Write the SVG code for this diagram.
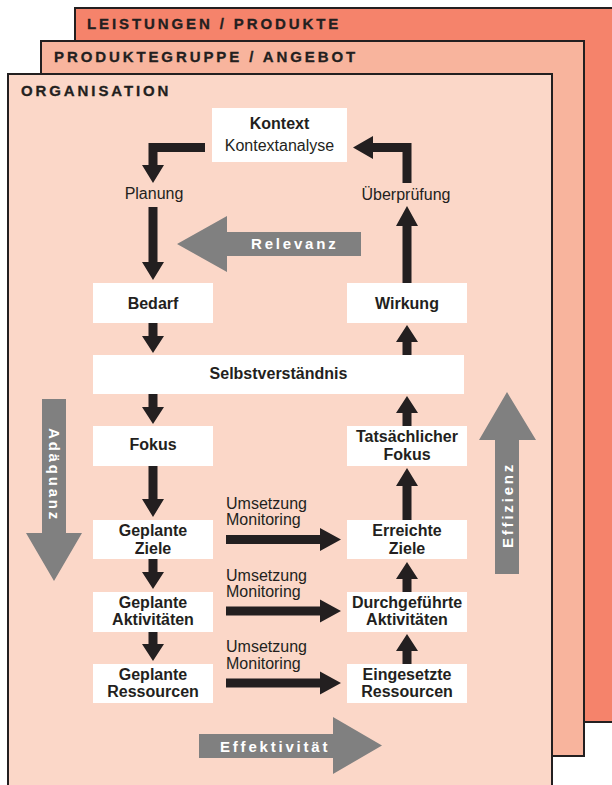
<svg xmlns="http://www.w3.org/2000/svg" width="612" height="785" viewBox="0 0 612 785">
  <defs>
    <style>
      .layer { stroke: #231F20; stroke-width: 2; }
      .l1 { fill: #F5836B; }
      .l2 { fill: #F8B49D; }
      .l3 { fill: #FBD7C8; }
      .head { font-family: "Liberation Sans", Arial, sans-serif; font-weight: bold; font-size: 15px; letter-spacing: 2.9px; fill: #231F20; stroke: #231F20; stroke-width: 0.3; }
      .box { fill: #FFFFFF; }
      .lbl { font-family: "Liberation Sans", Arial, sans-serif; font-weight: bold; font-size: 16px; fill: #231F20; text-anchor: middle; }
      .reg { font-family: "Liberation Sans", Arial, sans-serif; font-size: 16px; fill: #231F20; }
      .mid { text-anchor: middle; }
      .arr { fill: #231F20; }
      .grey { fill: #808080; }
      .gtxt { font-family: "Liberation Sans", Arial, sans-serif; font-weight: bold; font-size: 15px; letter-spacing: 2.8px; fill: #FFFFFF; }
    </style>
  </defs>

  <!-- stacked levels -->
  <g id="level-leistungen">
    <rect class="layer l1" x="75" y="8" width="560" height="714"/>
    <text class="head" x="87" y="28.5">LEISTUNGEN / PRODUKTE</text>
  </g>
  <g id="level-produktegruppe">
    <rect class="layer l2" x="41" y="41" width="543" height="715"/>
    <text class="head" x="54" y="62">PRODUKTEGRUPPE / ANGEBOT</text>
  </g>
  <g id="level-organisation">
    <rect class="layer l3" x="8" y="74" width="544" height="730"/>
    <text class="head" x="21" y="96">ORGANISATION</text>
  </g>

  <!-- grey dimension arrows -->
  <g id="relevanz">
    <polygon class="grey" points="361,232 227,232 227,216 177,244 227,272 227,256 361,256"/>
    <text class="gtxt" x="251" y="249">Relevanz</text>
  </g>
  <g id="adaequanz">
    <polygon class="grey" points="42,399 66,399 66,533 82,533 54,581 26,533 42,533"/>
    <text class="gtxt" transform="translate(49,428) rotate(90)" x="0" y="0">Adäquanz</text>
  </g>
  <g id="effizienz">
    <polygon class="grey" points="495,574 519,574 519,440 536,440 507,392 479,440 495,440"/>
    <text class="gtxt" transform="translate(512.5,548) rotate(-90)" x="0" y="0">Effizienz</text>
  </g>
  <g id="effektivitaet">
    <polygon class="grey" points="199,734 333,734 333,717 382,745.5 333,774 333,758 199,758"/>
    <text class="gtxt" x="220" y="751.5">Effektivität</text>
  </g>

  <!-- nodes -->
  <g id="kontext">
    <rect class="box" x="212" y="108" width="135" height="54"/>
    <text class="lbl" x="279.5" y="129">Kontext</text>
    <text class="reg mid" x="279.5" y="150.5">Kontextanalyse</text>
  </g>
  <g id="planung">
    <text class="reg mid" x="154" y="199">Planung</text>
  </g>
  <g id="ueberpruefung">
    <text class="reg mid" x="406" y="199.5">Überprüfung</text>
  </g>
  <g id="bedarf">
    <rect class="box" x="93" y="283" width="120" height="40"/>
    <text class="lbl" x="153" y="308.5">Bedarf</text>
  </g>
  <g id="wirkung">
    <rect class="box" x="347" y="283" width="120" height="40"/>
    <text class="lbl" x="407" y="308.5">Wirkung</text>
  </g>
  <g id="selbstverstaendnis">
    <rect class="box" x="93" y="355" width="371" height="39"/>
    <text class="lbl" x="278.5" y="378.5">Selbstverständnis</text>
  </g>
  <g id="fokus">
    <rect class="box" x="93" y="426" width="120" height="40"/>
    <text class="lbl" x="153" y="450">Fokus</text>
  </g>
  <g id="tatsaechlicher-fokus">
    <rect class="box" x="347" y="426" width="120" height="40"/>
    <text class="lbl" x="407" y="441.5">Tatsächlicher</text>
    <text class="lbl" x="407" y="459.5">Fokus</text>
  </g>
  <g id="geplante-ziele">
    <rect class="box" x="93" y="520" width="120" height="39"/>
    <text class="lbl" x="153" y="535.5">Geplante</text>
    <text class="lbl" x="153" y="553.5">Ziele</text>
  </g>
  <g id="erreichte-ziele">
    <rect class="box" x="347" y="520" width="120" height="39"/>
    <text class="lbl" x="407" y="535.5">Erreichte</text>
    <text class="lbl" x="407" y="553.5">Ziele</text>
  </g>
  <g id="geplante-aktivitaeten">
    <rect class="box" x="93" y="592" width="120" height="40"/>
    <text class="lbl" x="153" y="607.5">Geplante</text>
    <text class="lbl" x="153" y="625">Aktivitäten</text>
  </g>
  <g id="durchgefuehrte-aktivitaeten">
    <rect class="box" x="347" y="592" width="120" height="40"/>
    <text class="lbl" x="407" y="607.5">Durchgeführte</text>
    <text class="lbl" x="407" y="625">Aktivitäten</text>
  </g>
  <g id="geplante-ressourcen">
    <rect class="box" x="93" y="664" width="120" height="39"/>
    <text class="lbl" x="153" y="679.5">Geplante</text>
    <text class="lbl" x="153" y="697">Ressourcen</text>
  </g>
  <g id="eingesetzte-ressourcen">
    <rect class="box" x="347" y="664" width="120" height="39"/>
    <text class="lbl" x="407" y="679.5">Eingesetzte</text>
    <text class="lbl" x="407" y="697">Ressourcen</text>
  </g>

  <!-- connectors -->
  <g id="connectors">
    <!-- Kontext to Planung (elbow) -->
    <polygon class="arr" points="205,143 205,152 157.5,152 157.5,165 164,165 153,183 142,165 148.5,165 148.5,143"/>
    <!-- Planung to Bedarf -->
    <polygon class="arr" points="148.5,207 157.5,207 157.5,262 164,262 153,280 142,262 148.5,262"/>
    <!-- Bedarf to Selbstverständnis -->
    <polygon class="arr" points="148.5,323 157.5,323 157.5,336 164,336 153,353 142,336 148.5,336"/>
    <!-- Selbstverständnis to Fokus -->
    <polygon class="arr" points="148.5,394 157.5,394 157.5,407 164,407 153,424 142,407 148.5,407"/>
    <!-- Fokus to Geplante Ziele -->
    <polygon class="arr" points="148.5,466 157.5,466 157.5,499 164,499 153,517 142,499 148.5,499"/>
    <!-- Geplante Ziele to Geplante Aktivitäten -->
    <polygon class="arr" points="148.5,559 157.5,559 157.5,572 164,572 153,589 142,572 148.5,572"/>
    <!-- Geplante Aktivitäten to Geplante Ressourcen -->
    <polygon class="arr" points="148.5,632 157.5,632 157.5,644 164,644 153,661 142,644 148.5,644"/>

    <!-- Umsetzung / Monitoring links -->
    <polygon class="arr" points="226,535 320,535 320,528 341,539.5 320,551 320,544 226,544"/>
    <polygon class="arr" points="226,606.5 320,606.5 320,599.5 341,611 320,622.5 320,615.5 226,615.5"/>
    <polygon class="arr" points="226,678.5 320,678.5 320,671.5 341,683 320,694.5 320,687.5 226,687.5"/>
    <text class="reg" x="226" y="508.5">Umsetzung</text>
    <text class="reg" x="226" y="525">Monitoring</text>
    <text class="reg" x="226" y="580.5">Umsetzung</text>
    <text class="reg" x="226" y="597">Monitoring</text>
    <text class="reg" x="226" y="652">Umsetzung</text>
    <text class="reg" x="226" y="668.5">Monitoring</text>

    <!-- Eingesetzte Ressourcen to Durchgeführte Aktivitäten -->
    <polygon class="arr" points="402.5,664 411.5,664 411.5,651 418,651 407,634 396,651 402.5,651"/>
    <!-- Durchgeführte Aktivitäten to Erreichte Ziele -->
    <polygon class="arr" points="402.5,592 411.5,592 411.5,579 418,579 407,562 396,579 402.5,579"/>
    <!-- Erreichte Ziele to Tatsächlicher Fokus -->
    <polygon class="arr" points="402.5,520 411.5,520 411.5,486 418,486 407,468 396,486 402.5,486"/>
    <!-- Tatsächlicher Fokus to Selbstverständnis -->
    <polygon class="arr" points="402.5,426 411.5,426 411.5,413 418,413 407,396 396,413 402.5,413"/>
    <!-- Selbstverständnis to Wirkung -->
    <polygon class="arr" points="402.5,355 411.5,355 411.5,342 418,342 407,325 396,342 402.5,342"/>
    <!-- Wirkung to Überprüfung -->
    <polygon class="arr" points="402.5,283 411.5,283 411.5,226 418,226 407,206 396,226 402.5,226"/>
    <!-- Überprüfung to Kontext (elbow) -->
    <polygon class="arr" points="411.5,183 402.5,183 402.5,152 373,152 373,159 353,147.5 373,136 373,143 411.5,143"/>
  </g>
</svg>
